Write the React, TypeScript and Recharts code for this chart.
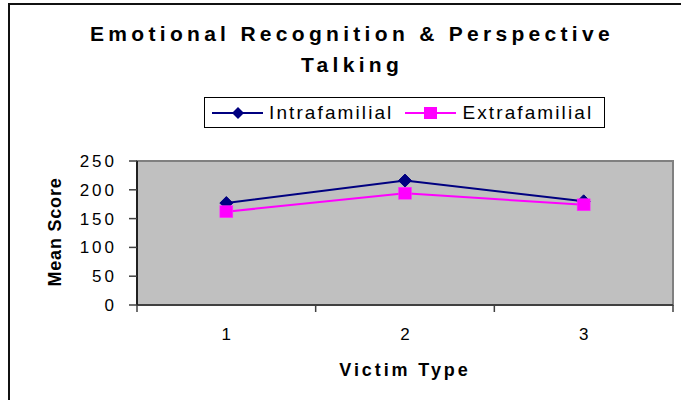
import React from 'react';
import { LineChart, Line, XAxis, YAxis, Legend, ReferenceArea } from 'recharts';

const title = ['Emotional Recognition & Perspective', 'Talking'];
const victimTypes = [1, 2, 3];
const intrafamilial = [177, 216, 180];
const extrafamilial = [162, 194, 174];
const yTicks = [0, 50, 100, 150, 200, 250];
const xTicks = [0.5, 1, 1.5, 2, 2.5, 3, 3.5];
const seriesNames = ['Intrafamilial', 'Extrafamilial'];
const xTitle = 'Victim Type';
const yTitle = 'Mean Score';

const NAVY = '#000080';
const MAGENTA = '#FF00FF';
const FONT = '"Liberation Sans", Arial, sans-serif';

const data = victimTypes.map((t, i) => ({
  type: t,
  intra: intrafamilial[i],
  extra: extrafamilial[i],
}));

const Diamond = (props: any) => {
  const { cx, cy } = props;
  if (cx == null || cy == null) return null;
  return (
    <polygon
      points={`${cx},${cy - 6.5} ${cx + 6.5},${cy} ${cx},${cy + 6.5} ${cx - 6.5},${cy}`}
      fill={NAVY}
      stroke={NAVY}
    />
  );
};

const Square = (props: any) => {
  const { cx, cy } = props;
  if (cx == null || cy == null) return null;
  return <rect x={cx - 6.5} y={cy - 6} width={13} height={12} fill={MAGENTA} stroke="#ff33ff" strokeWidth={0.5} />;
};

const XTick = (props: any) => {
  const { x, y, payload } = props;
  const v = payload.value;
  if (Number.isInteger(v)) {
    return (
      <text x={x} y={y + 35} textAnchor="middle" fill="#000" fontSize={17} fontFamily={FONT}>
        {String(v)}
      </text>
    );
  }
  return <line x1={x} y1={y} x2={x} y2={y + 7} stroke="#404040" strokeWidth={1.5} />;
};

const LegendContent = () => (
  <div
    style={{
      boxSizing: 'border-box',
      width: 401,
      height: 31,
      border: '1px solid #000',
      background: '#fff',
      display: 'flex',
      alignItems: 'center',
      paddingLeft: 7,
      fontFamily: FONT,
      fontSize: 19,
      letterSpacing: 2.1,
      color: '#000',
    }}
  >
    <svg width={51} height={14} style={{ display: 'block' }}>
      <line x1={0} y1={7} x2={51} y2={7} stroke={NAVY} strokeWidth={2} />
      <polygon points="26,1 32,7 26,13 20,7" fill={NAVY} />
    </svg>
    <span style={{ marginLeft: 6, whiteSpace: 'nowrap' }}>{seriesNames[0]}</span>
    <svg width={51} height={14} style={{ display: 'block', marginLeft: 12 }}>
      <line x1={0} y1={7} x2={51} y2={7} stroke={MAGENTA} strokeWidth={2} />
      <rect x={19} y={1} width={13} height={12} fill={MAGENTA} />
    </svg>
    <span style={{ marginLeft: 6, whiteSpace: 'nowrap' }}>{seriesNames[1]}</span>
  </div>
);

export default function App() {
  return (
    <div style={{ position: 'absolute', left: 0, top: 0, width: 681, height: 400, overflow: 'hidden', background: '#fff' }}>
      <div
        style={{
          position: 'absolute',
          left: 8,
          top: 3,
          width: 720,
          height: 440,
          border: '2px solid #111',
          boxSizing: 'border-box',
        }}
      />
      <div
        style={{
          position: 'absolute',
          left: 0,
          top: 18,
          width: 704,
          textAlign: 'center',
          fontFamily: FONT,
          fontWeight: 'bold',
          fontSize: 21,
          lineHeight: '31px',
          letterSpacing: 4.3,
          color: '#000',
        }}
      >
        <div>{title[0]}</div>
        <div>{title[1]}</div>
      </div>
      <div
        style={{
          position: 'absolute',
          left: 405,
          top: 360,
          transform: 'translateX(-50%)',
          fontFamily: FONT,
          fontWeight: 'bold',
          fontSize: 18,
          letterSpacing: 2.9,
          whiteSpace: 'nowrap',
          color: '#000',
        }}
      >
        {xTitle}
      </div>
      <div
        style={{
          position: 'absolute',
          left: 55,
          top: 232,
          transform: 'translate(-50%, -50%) rotate(-90deg)',
          fontFamily: FONT,
          fontWeight: 'bold',
          fontSize: 18,
          letterSpacing: 0.8,
          whiteSpace: 'nowrap',
          color: '#000',
        }}
      >
        {yTitle}
      </div>
      <div style={{ position: 'absolute', left: 0, top: 0 }}>
        <LineChart width={681} height={400} data={data} margin={{ top: 161, right: 8, bottom: 0, left: 0 }}>
          <ReferenceArea
            x1={0.5}
            x2={3.5}
            y1={0}
            y2={250}
            fill="#C0C0C0"
            fillOpacity={1}
            stroke="#808080"
            strokeWidth={2}
          />
          <XAxis
            dataKey="type"
            type="number"
            domain={[0.5, 3.5]}
            ticks={xTicks}
            interval={0}
            allowDecimals
            tickLine={false}
            tickSize={0}
            tickMargin={0}
            height={95}
            axisLine={{ stroke: '#404040', strokeWidth: 2 }}
            tick={<XTick />}
          />
          <YAxis
            type="number"
            domain={[0, 250]}
            ticks={yTicks}
            interval={0}
            width={137}
            tickSize={8}
            tickMargin={12}
            axisLine={{ stroke: '#202020', strokeWidth: 2 }}
            tickLine={{ stroke: '#404040', strokeWidth: 1.5 }}
            tick={{ fill: '#000', fontSize: 17, fontFamily: FONT, letterSpacing: 3 }}
          />
          <Legend
            layout="horizontal"
            verticalAlign="middle"
            align="center"
            wrapperStyle={{ position: 'absolute', left: 204, top: 97, width: 401, height: 31 }}
            content={<LegendContent />}
          />
          <Line
            type="linear"
            dataKey="intra"
            name={seriesNames[0]}
            stroke={NAVY}
            strokeWidth={2}
            dot={<Diamond />}
            activeDot={false}
            isAnimationActive={false}
          />
          <Line
            type="linear"
            dataKey="extra"
            name={seriesNames[1]}
            stroke={MAGENTA}
            strokeWidth={2}
            dot={<Square />}
            activeDot={false}
            isAnimationActive={false}
          />
        </LineChart>
      </div>
    </div>
  );
}
